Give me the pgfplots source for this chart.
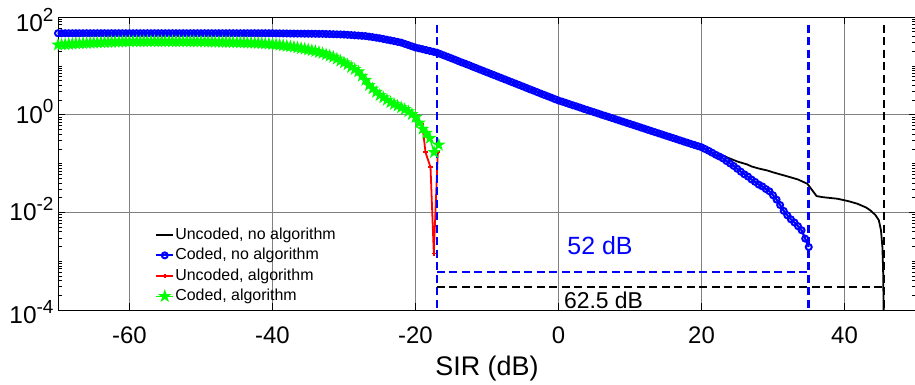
\documentclass[border=0pt]{standalone}
\usepackage{pgfplots}
\pgfplotsset{compat=1.18}
\usepackage{fontspec}
\setmainfont{Liberation Sans}
\definecolor{mblue}{rgb}{0,0,1}
\definecolor{mgreen}{rgb}{0,1,0}
\definecolor{mred}{rgb}{1,0,0}
\pgfdeclareplotmark{pentagram}{%
  \pgfpathmoveto{\pgfqpointpolar{90}{\pgfplotmarksize}}%
  \pgfpathlineto{\pgfqpointpolar{126}{0.382\pgfplotmarksize}}%
  \pgfpathlineto{\pgfqpointpolar{162}{\pgfplotmarksize}}%
  \pgfpathlineto{\pgfqpointpolar{198}{0.382\pgfplotmarksize}}%
  \pgfpathlineto{\pgfqpointpolar{234}{\pgfplotmarksize}}%
  \pgfpathlineto{\pgfqpointpolar{270}{0.382\pgfplotmarksize}}%
  \pgfpathlineto{\pgfqpointpolar{306}{\pgfplotmarksize}}%
  \pgfpathlineto{\pgfqpointpolar{342}{0.382\pgfplotmarksize}}%
  \pgfpathlineto{\pgfqpointpolar{18}{\pgfplotmarksize}}%
  \pgfpathlineto{\pgfqpointpolar{54}{0.382\pgfplotmarksize}}%
  \pgfpathclose
  \pgfusepathqfillstroke}
\newcommand{\ylab}[2]{\raisebox{#2}{\fontsize{24.5}{24}\selectfont 10\raisebox{10.5bp}{\fontsize{19}{19}\selectfont #1}}}
\begin{document}
\begin{tikzpicture}
\begin{axis}[
  scale only axis, width=858bp, height=293bp,
  ymode=log, xmin=-70, xmax=50, ymin=1e-4, ymax=1e2,
  xtick={-60,-40,-20,0,20,40},
  xticklabels={-60,-40,-20,0,20,40},
  ytick={1e-4,1e-2,1,1e2},
  yticklabels={\ylab{-4}{-5bp},\ylab{-2}{0bp},\ylab{0}{0bp},\ylab{2}{-6bp}},
  minor ytick={2e-4,3e-4,4e-4,5e-4,6e-4,7e-4,8e-4,9e-4,1e-3,2e-3,3e-3,4e-3,5e-3,6e-3,7e-3,8e-3,9e-3,2e-2,3e-2,4e-2,5e-2,6e-2,7e-2,8e-2,9e-2,0.1,0.2,0.3,0.4,0.5,0.6,0.7,0.8,0.9,2,3,4,5,6,7,8,9,10,20,30,40,50,60,70,80,90},
  grid=major, major grid style={black!50, line width=0.8pt},
  tick align=inside, major tick length=7bp, minor tick length=4bp,
  tick style={black, line width=0.6pt},
  axis line style={black, line width=0.9pt},
  xticklabel style={font=\fontsize{24}{28}\selectfont, yshift=-13bp},
  yticklabel style={anchor=base east, yshift=-8.5bp, xshift=-1bp},
  xlabel={SIR (dB)}, xlabel style={font=\fontsize{27}{30}\selectfont, yshift=-6bp},
  legend style={at={(rel axis cs:0.113,0.285)}, anchor=north west, draw=none, fill=none,
    font=\fontsize{16}{19}\selectfont, row sep=4bp, inner sep=0pt,
    nodes={inner sep=1pt, text height=11.5pt, text depth=3pt}},
  legend cell align=left,
]
% Uncoded, no algorithm
\addplot[black, line width=1.8pt] coordinates {
(-70,46.5)(-65,46.5)(-60,46.5)(-55,46.5)(-50,46.5)(-45,46.5)(-40,46.5)(-35,45.5)(-33,45.2)(-30,43.7)(-27,40.7)(-25,36.7)(-22,29.9)(-20,23.7)(-17,18.6)
(-10,7.36)(0,1.95)(10,0.646)(20,0.215)(22,0.151)(23,0.145)(24,0.126)(25,0.110)(26.4,0.0955)(27,0.087)(28,0.079)(29.2,0.072)(30,0.066)(31,0.060)(32.4,0.0525)(33.5,0.047)(34.8,0.0385)(35.5,0.0281)(36.1,0.0215)(37,0.0204)(39,0.019)(40.5,0.017)(41.8,0.015)(43,0.0126)(43.6,0.011)(44.3,0.0089)(44.8,0.0069)(45.1,0.0043)(45.3,0.00195)(45.4,0.00066)(45.5,0.00005)};
\addlegendentry{Uncoded, no algorithm}
% Coded, no algorithm
\addplot[mblue, line width=2.2pt, mark=o, mark size=3pt, mark options={line width=2pt}] coordinates {
(-70,46.5)(-69.5,46.5)(-69,46.5)(-68.5,46.5)(-68,46.5)(-67.5,46.5)(-67,46.5)(-66.5,46.5)(-66,46.5)(-65.5,46.5)
(-65,46.5)(-64.5,46.5)(-64,46.5)(-63.5,46.5)(-63,46.5)(-62.5,46.5)(-62,46.5)(-61.5,46.5)(-61,46.5)(-60.5,46.5)
(-60,46.5)(-59.5,46.5)(-59,46.5)(-58.5,46.5)(-58,46.5)(-57.5,46.5)(-57,46.5)(-56.5,46.5)(-56,46.5)(-55.5,46.5)
(-55,46.5)(-54.5,46.5)(-54,46.5)(-53.5,46.5)(-53,46.5)(-52.5,46.5)(-52,46.5)(-51.5,46.5)(-51,46.5)(-50.5,46.5)
(-50,46.5)(-49.5,46.5)(-49,46.5)(-48.5,46.5)(-48,46.5)(-47.5,46.5)(-47,46.5)(-46.5,46.5)(-46,46.5)(-45.5,46.5)
(-45,46.5)(-44.5,46.5)(-44,46.5)(-43.5,46.5)(-43,46.5)(-42.5,46.5)(-42,46.5)(-41.5,46.5)(-41,46.5)(-40.5,46.5)
(-40,46.5)(-39.5,46.3)(-39,46.2)(-38.5,46.1)(-38,46.0)(-37.5,45.9)(-37,45.8)(-36.5,45.7)(-36,45.6)(-35.5,45.5)
(-35,45.5)(-34.5,45.4)(-34,45.3)(-33.5,45.2)(-33,45.2)(-32.5,44.9)(-32,44.7)(-31.5,44.4)(-31,44.2)(-30.5,43.9)
(-30,43.7)(-29.5,43.2)(-29,42.7)(-28.5,42.2)(-28,41.7)(-27.5,41.2)(-27,40.7)(-26.5,39.7)(-26,38.7)(-25.5,37.7)
(-25,36.7)(-24.5,35.5)(-24,34.3)(-23.5,33.2)(-23,32.1)(-22.5,31.0)(-22,29.9)(-21.5,28.2)(-21,26.6)(-20.5,25.1)
(-20,23.7)(-19.5,22.8)(-19,21.9)(-18.5,21.0)(-18,20.2)(-17.5,19.4)(-17,18.6)(-16.5,17.4)(-16,16.3)(-15.5,15.3)
(-15,14.3)(-14.5,13.4)(-14,12.5)(-13.5,11.7)(-13,11.0)(-12.5,10.3)(-12,9.60)(-11.5,9.0)(-11,8.40)(-10.5,7.86)
(-10,7.36)(-9.5,6.88)(-9,6.44)(-8.5,6.03)(-8,5.64)(-7.5,5.28)(-7,4.94)(-6.5,4.62)(-6,4.33)(-5.5,4.05)
(-5,3.79)(-4.5,3.54)(-4,3.31)(-3.5,3.10)(-3,2.90)(-2.5,2.71)(-2,2.54)(-1.5,2.38)(-1,2.23)(-0.5,2.08)
(0,1.95)(0.5,1.85)(1,1.75)(1.5,1.65)(2,1.56)(2.5,1.48)(3,1.40)(3.5,1.32)(4,1.25)(4.5,1.18)
(5,1.12)(5.5,1.06)(6,1.00)(6.5,0.95)(7,0.90)(7.5,0.85)(8,0.805)(8.5,0.762)(9,0.721)(9.5,0.682)
(10,0.646)(10.5,0.611)(11,0.578)(11.5,0.547)(12,0.518)(12.5,0.490)(13,0.463)(13.5,0.438)(14,0.415)(14.5,0.393)
(15,0.372)(15.5,0.352)(16,0.333)(16.5,0.315)(17,0.298)(17.5,0.282)(18,0.267)(18.5,0.253)(19,0.240)(19.5,0.227)
(20,0.215)(20.5,0.198)(21,0.182)(21.5,0.166)(22,0.151)(22.5,0.139)(23,0.127)(23.5,0.112)(24,0.100)(24.5,0.089)
(25,0.078)(25.5,0.068)(26,0.060)(26.5,0.054)(27,0.047)(27.5,0.042)(28,0.037)(28.5,0.034)(29,0.030)(29.5,0.027)
(30,0.0224)(30.5,0.0182)(31,0.0141)(31.5,0.0107)(32,0.0087)(32.5,0.0072)(33,0.0062)(33.5,0.0052)(34,0.0043)(34.5,0.0029)
(35,0.00195)};
\addlegendentry{Coded, no algorithm}
% Uncoded, algorithm
\addplot[mred, line width=1.8pt, mark=+, mark size=2.2pt] coordinates {
(-70,26.5)(-68,27.9)(-66,28.9)(-64,29.8)(-62,30.6)(-60,31.1)(-58,31.3)(-56,31.3)(-54,31.3)(-52,31.2)(-50,31.0)(-48,30.6)(-46,30.1)(-44,29.6)(-42,28.9)
(-40,27.4)(-39,26.4)(-38,25.1)(-37,24.0)(-36,22.6)(-35,21.1)(-34,19.6)(-33,17.8)(-32,15.7)(-31,13.6)(-30,11.4)(-29,9.2)(-28,7.4)(-27,5.0)(-26,3.3)
(-25,2.45)(-24,1.95)(-23,1.62)(-22,1.37)(-21,1.13)(-20,0.86)(-19.06,0.646)(-18.6,0.17)(-17.9,0.084)(-17.44,0.00144)(-16.88,0.17)};
\addlegendentry{Uncoded, algorithm}
% Coded, algorithm
\addplot[mgreen, line width=1.4pt, mark=pentagram, mark size=5.5pt, mark options={fill=mgreen, line width=1pt}] coordinates {
(-70,26.9)(-69.5,27.2)(-69,27.5)(-68.5,27.9)(-68,28.2)(-67.5,28.5)(-67,28.7)(-66.5,29.0)(-66,29.2)(-65.5,29.4)
(-65,29.6)(-64.5,29.9)(-64,30.1)(-63.5,30.3)(-63,30.5)(-62.5,30.7)(-62,30.9)(-61.5,31.0)(-61,31.2)(-60.5,31.3)
(-60,31.4)(-59.5,31.5)(-59,31.5)(-58.5,31.5)(-58,31.6)(-57.5,31.6)(-57,31.6)(-56.5,31.6)(-56,31.6)(-55.5,31.6)
(-55,31.6)(-54.5,31.6)(-54,31.5)(-53.5,31.5)(-53,31.5)(-52.5,31.5)(-52,31.4)(-51.5,31.4)(-51,31.4)(-50.5,31.3)
(-50,31.3)(-49.5,31.2)(-49,31.1)(-48.5,31.0)(-48,30.9)(-47.5,30.8)(-47,30.7)(-46.5,30.6)(-46,30.5)(-45.5,30.3)
(-45,30.2)(-44.5,30.0)(-44,29.9)(-43.5,29.7)(-43,29.5)(-42.5,29.4)(-42,29.2)(-41.5,28.8)(-41,28.5)(-40.5,28.1)
(-40,27.7)(-39.5,27.2)(-39,26.7)(-38.5,26.1)(-38,25.4)(-37.5,24.9)(-37,24.3)(-36.5,23.7)(-36,22.9)(-35.5,22.2)
(-35,21.4)(-34.5,20.7)(-34,19.9)(-33.5,19.0)(-33,18.1)(-32.5,17.0)(-32,16.0)(-31.5,15.1)(-31,13.9)(-30.5,12.6)
(-30,11.6)(-29.5,10.6)(-29,9.4)(-28.5,8.5)(-28,7.6)(-27.5,6.2)(-27,5.1)(-26.5,4.0)(-26,3.4)(-25.5,2.9)
(-25,2.5)(-24.5,2.24)(-24,2.0)(-23.5,1.78)(-23,1.65)(-22.5,1.52)(-22,1.40)(-21.5,1.29)(-21,1.16)(-20.5,1.02)
(-20,0.88)(-19.5,0.68)(-19,0.51)(-18.5,0.42)(-18,0.33)(-17.4,0.17)(-16.75,0.24)};
\addlegendentry{Coded, algorithm}
% annotation lines
\addplot[mblue, line width=2.6pt, dash pattern=on 8bp off 4.5bp, forget plot] coordinates {(-17,70)(-17,1e-4)};
\addplot[mblue, line width=2.6pt, dash pattern=on 8bp off 4.5bp, forget plot] coordinates {(35,70)(35,1e-4)};
\addplot[mblue, line width=2pt, dash pattern=on 8bp off 4.5bp, forget plot] coordinates {(-17,6e-4)(35,6e-4)};
\addplot[black, line width=2.6pt, dash pattern=on 8bp off 4.5bp, forget plot] coordinates {(45.5,70)(45.5,1e-4)};
\addplot[black, line width=2pt, dash pattern=on 8bp off 4.5bp, forget plot] coordinates {(-17,3e-4)(45.5,3e-4)};
\node[text=mblue, font=\fontsize{25}{28}\selectfont] at (axis cs:5.8,2.1e-3) {52 dB};
\node[text=black, font=\fontsize{23}{26}\selectfont] at (axis cs:6.3,1.6e-4) {62.5 dB};
\end{axis}
\pgfresetboundingbox
\path[use as bounding box] (current axis.south west) ++(-58bp,-75bp) rectangle ++(915bp,385bp);
\end{tikzpicture}
\end{document}
